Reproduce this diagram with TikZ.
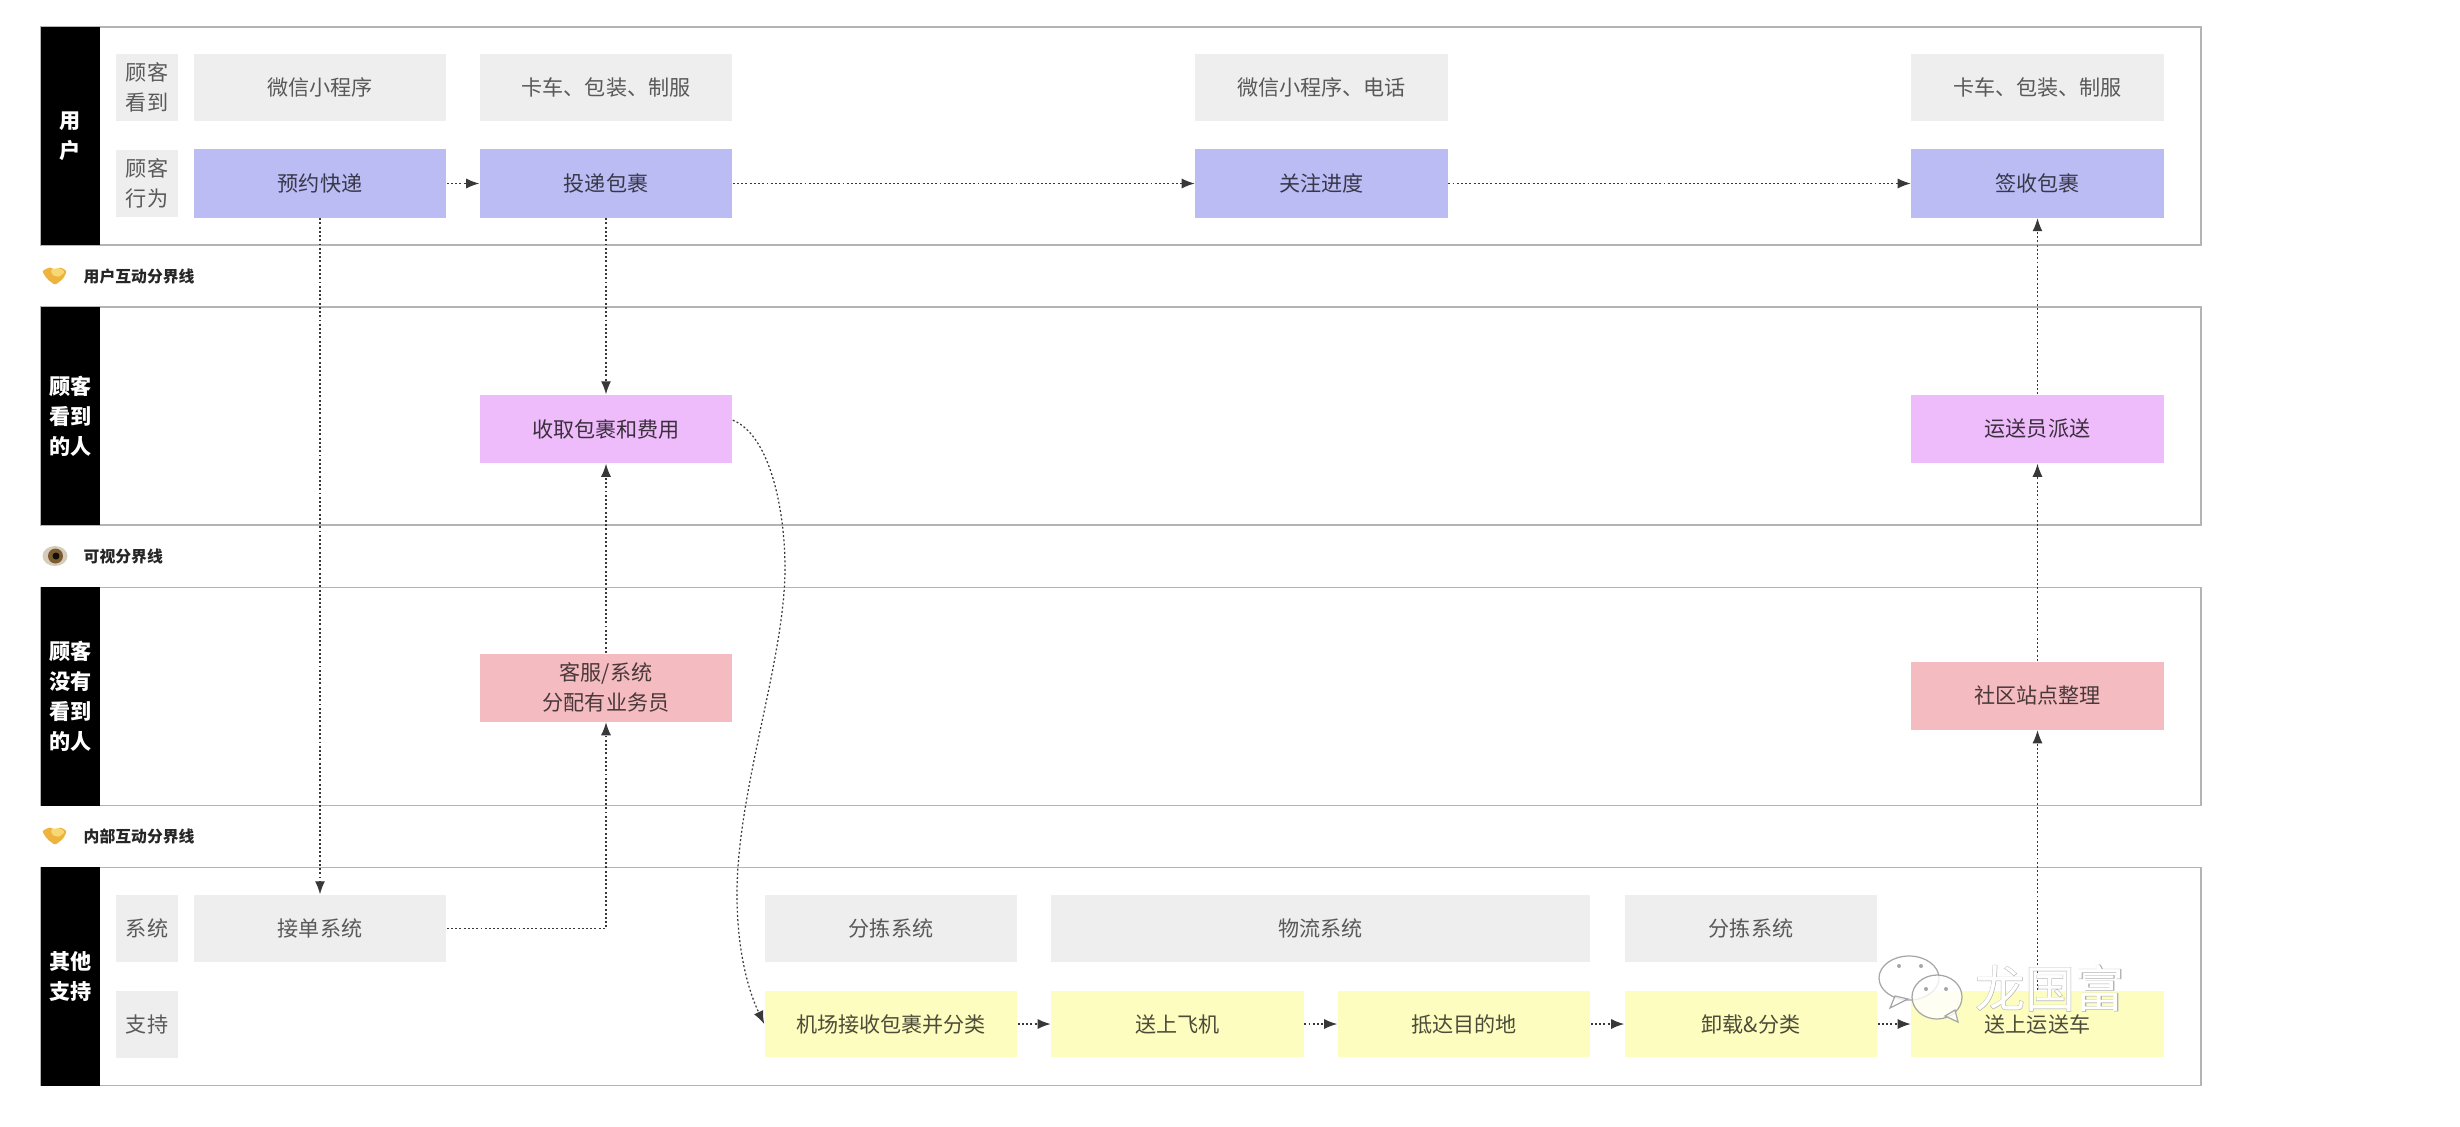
\documentclass[tikz,border=0pt]{standalone}
\usepackage{fontspec}
\setmainfont{Noto Sans CJK SC}
\newfontfamily\markfont{Noto Sans CJK SC}
\newfontfamily\markfontfat[FakeBold=1.6]{Noto Sans CJK SC}
\usetikzlibrary{arrows.meta}
\definecolor{panelgray}{HTML}{EEEEEE}
\definecolor{actblue}{HTML}{BCBCF5}
\definecolor{seenpink}{HTML}{EEBCFA}
\definecolor{hiddenrose}{HTML}{F4BCC0}
\definecolor{supportyellow}{HTML}{FDFDC0}
\definecolor{frameline}{HTML}{B4B4B4}
\definecolor{flowline}{HTML}{383838}
\definecolor{handamber}{HTML}{EDB33C}
\definecolor{handlight}{HTML}{F8D775}
\definecolor{eyering}{HTML}{D6CCBC}
\definecolor{eyeiris}{HTML}{7A5C30}
\tikzset{
  bodytext/.style={font=\fontsize{6}{8.5}\selectfont, align=center, inner sep=0pt},
  laneframe/.style={draw=frameline, line width=0.5pt, minimum width=21.58cm, minimum height=2.18cm, inner sep=0pt},
  lanehead/.style={bodytext, font=\fontsize{6}{8.5}\selectfont\bfseries, fill=black, text=white, minimum width=0.59cm, minimum height=2.18cm},
  rowtag/.style={bodytext, fill=panelgray, text=black!65, minimum width=0.62cm, minimum height=0.67cm},
  seebox/.style={bodytext, fill=panelgray, text=black!65, minimum width=2.52cm, minimum height=0.67cm},
  actbox/.style={bodytext, fill=actblue, text=black!70!actblue, minimum width=2.52cm, minimum height=0.68cm},
  frontbox/.style={bodytext, fill=seenpink, text=black!75!seenpink, minimum width=2.52cm, minimum height=0.68cm},
  backbox/.style={bodytext, fill=hiddenrose, text=black!70!hiddenrose, minimum width=2.52cm, minimum height=0.68cm},
  supportbox/.style={bodytext, fill=supportyellow, text=black!70!supportyellow, minimum width=2.52cm, minimum height=0.66cm},
  splitlabel/.style={font=\fontsize{4.5}{5}\selectfont\bfseries, inner sep=0pt, anchor=west, text=black!85},
  flow/.style={flowline, line width=0.35pt, dash pattern=on 0.55pt off 0.65pt, -{Latex[length=0.13cm,width=0.1cm]}}
}

\begin{document}
\begin{tikzpicture}[x=0.01cm,y=-0.01cm]
  \useasboundingbox (0,0) rectangle (2460,1126);

  % Lane frames
  \node[laneframe] (laneUser) at (1121,136) {};
  \node[laneframe] (laneSeen) at (1121,416) {};
  \node[laneframe] (laneHidden) at (1121,696.5) {};
  \node[laneframe] (laneOther) at (1121,976.5) {};

  % Lane heads
  \node[lanehead] (headUser) at (70.5,136) {用\\户};
  \node[lanehead] (headSeen) at (70.5,416) {顾客\\看到\\的人};
  \node[lanehead] (headHidden) at (70.5,696.5) {顾客\\没有\\看到\\的人};
  \node[lanehead] (headOther) at (70.5,976.5) {其他\\支持};

  % Row tags
  \node[rowtag] (tagSee) at (147,87.5) {顾客\\看到};
  \node[rowtag] (tagAct) at (147,183.5) {顾客\\行为};
  \node[rowtag] (tagSys) at (147,928.5) {系统};
  \node[rowtag] (tagSup) at (147,1024.5) {支持};

  % What the customer sees
  \node[seebox] (seeApp) at (320,87.5) {微信小程序};
  \node[seebox] (seeTruck) at (606,87.5) {卡车、包装、制服};
  \node[seebox] (seeAppTel) at (1321.5,87.5) {微信小程序、电话};
  \node[seebox] (seeTruckB) at (2037.5,87.5) {卡车、包装、制服};

  % Customer actions
  \node[actbox] (actBook) at (320,183.5) {预约快递};
  \node[actbox] (actSend) at (606,183.5) {投递包裹};
  \node[actbox] (actTrack) at (1321.5,183.5) {关注进度};
  \node[actbox] (actSign) at (2037.5,183.5) {签收包裹};

  % Front and back stage
  \node[frontbox] (frontTake) at (606,429) {收取包裹和费用};
  \node[frontbox] (frontDeliver) at (2037.5,429) {运送员派送};
  \node[backbox] (backAssign) at (606,687.5) {客服/系统\\分配有业务员};
  \node[backbox] (backStation) at (2037.5,695.5) {社区站点整理};

  % Systems
  \node[seebox] (sysOrder) at (320,928.5) {接单系统};
  \node[seebox] (sysSortA) at (891,928.5) {分拣系统};
  \node[seebox, minimum width=5.39cm] (sysLogistics) at (1320.5,928.5) {物流系统};
  \node[seebox] (sysSortB) at (1751,928.5) {分拣系统};

  % Support
  \node[supportbox] (supAirport) at (891,1024) {机场接收包裹并分类};
  \node[supportbox] (supPlane) at (1177.5,1024) {送上飞机};
  \node[supportbox] (supArrive) at (1464,1024) {抵达目的地};
  \node[supportbox] (supUnload) at (1751,1024) {卸载\&分类};
  \node[supportbox] (supVan) at (2037.5,1024) {送上运送车};

  % Connectors
  \draw[flow] (actBook) -- (actSend);
  \draw[flow] (actSend) -- (actTrack);
  \draw[flow] (actTrack) -- (actSign);
  \draw[flow] (actBook) -- (sysOrder);
  \draw[flow] (actSend) -- (frontTake);
  \draw[flow] (sysOrder.east) -| (backAssign.south);
  \draw[flow] (backAssign) -- (frontTake);
  \draw[flow] (frontTake.4) .. controls (770,435) and (785,510) .. (785,568)
    .. controls (785,660) and (737,790) .. (737,894)
    .. controls (737,950) and (748,990) .. (supAirport.west);
  \draw[flow] (supAirport) -- (supPlane);
  \draw[flow] (supPlane) -- (supArrive);
  \draw[flow] (supArrive) -- (supUnload);
  \draw[flow] (supUnload) -- (supVan);
  \draw[flow] (supVan) -- (backStation);
  \draw[flow] (backStation) -- (frontDeliver);
  \draw[flow] (frontDeliver) -- (actSign);

  % Boundary labels
  \node[splitlabel] (splitUser) at (83,276) {用户互动分界线};
  \node[splitlabel] (splitSight) at (83,556) {可视分界线};
  \node[splitlabel] (splitInner) at (83,836) {内部互动分界线};

  % Handshake and eye icons
  \foreach \y in {276,836} {
    \fill[handamber, rounded corners=0.6pt] (42,\y-5) -- (50,\y-9) -- (55,\y-6) -- (60,\y-9)
      -- (67,\y-5) -- (63,\y+3) -- (55,\y+9) -- (47,\y+3) -- cycle;
    \fill[handlight, rounded corners=0.4pt] (51,\y-7) -- (60,\y-8) -- (65,\y-4) -- (59,\y+1) -- (52,\y-1) -- cycle;
  }
  \fill[eyering] (55,556) ellipse (12.5 and 10);
  \fill[eyeiris] (55.5,556) circle (7.5);
  \fill[black!85!eyeiris] (56,556) circle (3.5);

  % Watermark
  \begin{scope}[draw=black!35, line width=0.35pt]
    \filldraw[fill=white, fill opacity=0.8] (1909,978) ellipse (30 and 22);
    \filldraw[fill=white, fill opacity=0.8] (1895,996) -- (1890,1008) -- (1908,999) -- cycle;
    \filldraw[fill=white, fill opacity=0.8] (1937,997) ellipse (25 and 22);
    \filldraw[fill=white, fill opacity=0.8] (1945,1016) -- (1958,1022) -- (1955,1010) -- cycle;
  \end{scope}
  \foreach \x/\y in {1899/966,1921/966,1926/989,1946/989} {
    \fill[black!35] (\x,\y) circle (2);
  }
  \node[inner sep=0pt, text=black!30, font=\fontsize{14.2}{16}\selectfont\markfontfat] (markName) at (2050,988) {龙国富};
  \node[inner sep=0pt, text=white, font=\fontsize{14.2}{16}\selectfont\markfont] (markNameTop) at (2050,988) {龙国富};
\end{tikzpicture}
\end{document}
